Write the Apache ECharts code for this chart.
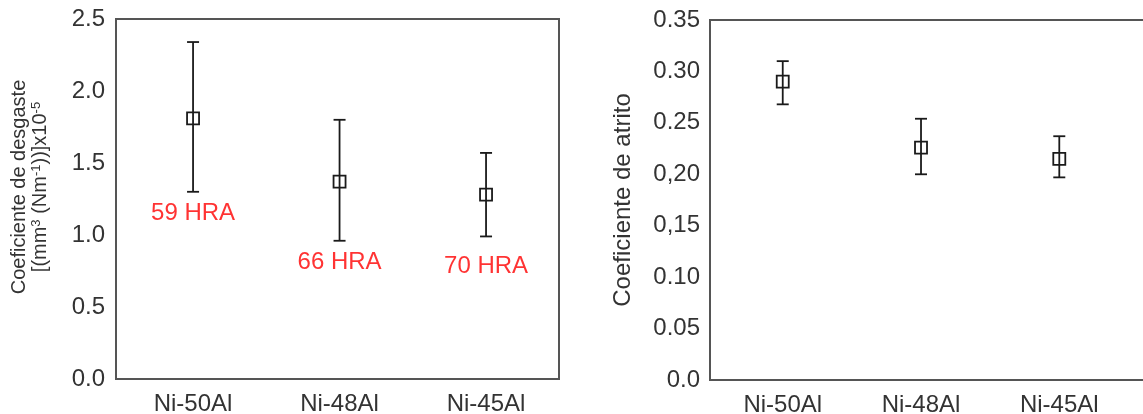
<!DOCTYPE html>
<html>
<head>
<meta charset="utf-8">
<script src="https://cdn.jsdelivr.net/npm/echarts@6/dist/echarts.min.js"></script>
<style>
html,body{margin:0;padding:0;background:#fff;}
#chart{width:1143px;height:414px;}
</style>
</head>
<body>
<div id="chart"></div>
<script>
// ---- data ----
const categories = ['Ni-50Al', 'Ni-48Al', 'Ni-45Al'];

// wear coefficient [(mm3 (Nm-1))]x10-5
const wearMean = [1.81, 1.37, 1.28];
const wearHigh = [2.34, 1.80, 1.57];
const wearLow  = [1.30, 0.96, 0.99];

// hardness annotations
const hraText = ['59 HRA', '66 HRA', '70 HRA'];
const hraLabelY = [1.15, 0.81, 0.78];

// friction coefficient
const fricMean = [0.290, 0.226, 0.215];
const fricHigh = [0.310, 0.254, 0.237];
const fricLow  = [0.268, 0.200, 0.197];

// tick labels
const wearTicks = ['0.0', '0.5', '1.0', '1.5', '2.0', '2.5'];
const fricTicks = ['0.0', '0.05', '0.10', '0,15', '0,20', '0.25', '0.30', '0.35'];

// ---- chart ----
const FONT = '"Liberation Sans", Arial, sans-serif';
const TXT = '#333';
const BOX = '#555';
const chart = echarts.init(document.getElementById('chart'), null, {renderer: 'canvas'});

function errorBars(low, high, xi, yi) {
  return {
    type: 'custom',
    xAxisIndex: xi, yAxisIndex: yi,
    data: low.map((l, i) => [i, l, high[i]]),
    renderItem: function (params, api) {
      const x = api.value(0);
      const p1 = api.coord([x, api.value(1)]);
      const p2 = api.coord([x, api.value(2)]);
      const hw = 6;
      const st = {stroke: '#1a1a1a', lineWidth: 1.8};
      return {
        type: 'group',
        children: [
          {type: 'line', shape: {x1: p1[0], y1: p1[1], x2: p2[0], y2: p2[1]}, style: st},
          {type: 'line', shape: {x1: p1[0] - hw, y1: p1[1], x2: p1[0] + hw, y2: p1[1]}, style: st},
          {type: 'line', shape: {x1: p2[0] - hw, y1: p2[1], x2: p2[0] + hw, y2: p2[1]}, style: st}
        ]
      };
    },
    z: 2
  };
}

function xAxisDef(gi) {
  return {
    type: 'value', gridIndex: gi,
    min: -0.526, max: gi === 0 ? 2.498 : 2.656,
    splitLine: {show: false},
    axisLine: {show: false},
    axisTick: {show: false},
    axisLabel: {
      customValues: [0, 1, 2],
      formatter: v => categories[Math.round(v)],
      fontFamily: FONT, fontSize: 24, color: TXT, margin: 13
    }
  };
}

const option = {
  backgroundColor: '#fff',
  animation: false,
  grid: [
    {left: 116, top: 19, width: 443, height: 360, show: true, borderColor: BOX, borderWidth: 2, backgroundColor: 'transparent', outerBoundsMode: 'none', containLabel: false},
    {left: 710, top: 20, width: 440, height: 360, show: true, borderColor: BOX, borderWidth: 2, backgroundColor: 'transparent', outerBoundsMode: 'none', containLabel: false}
  ],
  xAxis: [xAxisDef(0), xAxisDef(1)],
  yAxis: [
    {
      type: 'value', gridIndex: 0, min: 0, max: 2.5, interval: 0.5,
      splitLine: {show: false}, axisLine: {show: false}, axisTick: {show: false},
      axisLabel: {formatter: (v) => wearTicks[Math.round(v / 0.5)], fontFamily: FONT, fontSize: 24, color: TXT, margin: 11},
      name: 'Coeficiente de desgaste\n[(mm{sup|3} (Nm{sup|-1}))]x10{sup|-5}',
      nameLocation: 'middle', nameRotate: 90, nameGap: 65,
      nameTextStyle: {
        fontFamily: FONT, fontSize: 20, color: TXT, lineHeight: 21,
        padding: [0, 0, 0, 24],
        rich: {
          sup: {fontFamily: FONT, fontSize: 13, color: TXT, verticalAlign: 'top', lineHeight: 9}
        }
      }
    },
    {
      type: 'value', gridIndex: 1, min: 0, max: 0.35, interval: 0.05,
      splitLine: {show: false}, axisLine: {show: false}, axisTick: {show: false},
      axisLabel: {formatter: (v) => fricTicks[Math.round(v / 0.05)], fontFamily: FONT, fontSize: 24, color: TXT, margin: 10},
      name: 'Coeficiente de atrito',
      nameLocation: 'middle', nameRotate: 90, nameGap: 75,
      nameTextStyle: {fontFamily: FONT, fontSize: 24, color: TXT}
    }
  ],
  series: [
    errorBars(wearLow, wearHigh, 0, 0),
    {
      type: 'scatter', xAxisIndex: 0, yAxisIndex: 0,
      data: wearMean.map((v, i) => [i, v]),
      symbol: 'rect', symbolSize: 12,
      itemStyle: {color: 'rgba(255,255,255,0)', borderColor: '#1a1a1a', borderWidth: 1.8, opacity: 1},
      z: 3
    },
    {
      type: 'scatter', xAxisIndex: 0, yAxisIndex: 0,
      data: hraLabelY.map((v, i) => [i, v, hraText[i]]),
      symbolSize: 0,
      itemStyle: {color: '#ff0000'},
      label: {
        show: true, position: 'inside',
        formatter: p => p.data[2],
        fontFamily: FONT, fontSize: 24, color: '#ff0000',
        textBorderWidth: 0, textBorderColor: 'transparent'
      },
      z: 4
    },
    errorBars(fricLow, fricHigh, 1, 1),
    {
      type: 'scatter', xAxisIndex: 1, yAxisIndex: 1,
      data: fricMean.map((v, i) => [i, v]),
      symbol: 'rect', symbolSize: 12,
      itemStyle: {color: 'rgba(255,255,255,0)', borderColor: '#1a1a1a', borderWidth: 1.8, opacity: 1},
      z: 3
    }
  ]
};
chart.setOption(option);
</script>
</body>
</html>
